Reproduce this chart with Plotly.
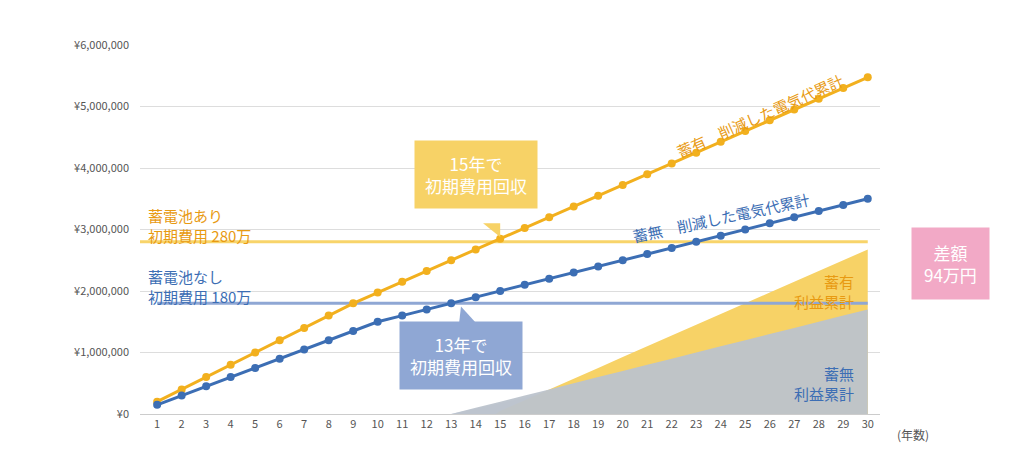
import plotly.graph_objects as go

years = list(range(1, 31))
with_batt = [200,400,600,800,1000,1200,1400,1600,1800,1975,2150,2325,2500,2675,2850,3025,3200,3375,3550,3725,3900,4075,4250,4425,4600,4775,4950,5125,5300,5475]
without_batt = [150,300,450,600,750,900,1050,1200,1350,1500,1600,1700,1800,1900,2000,2100,2200,2300,2400,2500,2600,2700,2800,2900,3000,3100,3200,3300,3400,3500]
with_batt = [v*1000 for v in with_batt]
without_batt = [v*1000 for v in without_batt]
cost_with = 2800000
cost_without = 1800000
yticks = [0,1000000,2000000,3000000,4000000,5000000,6000000]
ytext = ["¥0","¥1,000,000","¥2,000,000","¥3,000,000","¥4,000,000","¥5,000,000","¥6,000,000"]

F = "Noto Sans CJK JP"
YEL, BLU = "#F2B01E", "#3C6EB4"
fig = go.Figure()

px_y = [14.81] + [y for y in years if y >= 15]
py_y = [0] + [max(v - cost_with, 0) for y, v in zip(years, with_batt) if y >= 15]
px_b = [13] + [y for y in years if y > 13]
py_b = [0] + [v - cost_without for y, v in zip(years, without_batt) if y > 13]
fig.add_trace(go.Scatter(x=px_b, y=[0.9*v for v in py_b], fill="tozeroy", mode="none",
                         fillcolor="rgba(180,195,225,0.6)", showlegend=False))
fig.add_trace(go.Scatter(x=px_y, y=py_y, fill="tozeroy", mode="none", fillcolor="#F7D266", showlegend=False))
fig.add_trace(go.Scatter(x=px_b, y=py_b, fill="tozeroy", mode="none", fillcolor="rgba(188,195,204,0.95)", showlegend=False))

fig.add_trace(go.Scatter(x=[0.3, 30], y=[cost_with]*2, mode="lines", line=dict(color="#F8D46A", width=3), showlegend=False))
fig.add_trace(go.Scatter(x=[1, 30], y=[cost_without]*2, mode="lines", line=dict(color="#8FA7D4", width=3), showlegend=False))

fig.add_trace(go.Scatter(x=years, y=with_batt, mode="lines+markers", line=dict(color=YEL, width=3),
                         marker=dict(size=8, color=YEL), showlegend=False))
fig.add_trace(go.Scatter(x=years, y=without_batt, mode="lines+markers", line=dict(color=BLU, width=3),
                         marker=dict(size=8, color=BLU), showlegend=False))

def ann(x, y, text, color, size=15, **kw):
    fig.add_annotation(x=x, y=y, text=text, showarrow=False, font=dict(family=F, size=size, color=color), **kw)

ann(0.55, 3.07e6, "蓄電池あり<br>初期費用 280万", "#E89A12", xanchor="left", align="left")
ann(0.55, 2.07e6, "蓄電池なし<br>初期費用 180万", BLU, xanchor="left", align="left")
ann(25.6, 4.85e6, "蓄有　削減した電気代累計", "#E89A12", textangle=-24)
ann(24.0, 3.2e6, "蓄無　削減した電気代累計", BLU, textangle=-12)
ann(29.5, 2.0e6, "蓄有<br>利益累計", "#E89A12", xanchor="right", align="right")
ann(29.5, 0.5e6, "蓄無<br>利益累計", BLU, xanchor="right", align="right")

fig.add_shape(type="path", path="M 14.3 3.1e6 L 15.0 2.88e6 L 15.0 3.1e6 Z", fillcolor="#F7D266", line_width=0)
fig.add_annotation(x=14.0, y=3.9e6, text="15年で<br>初期費用回収", showarrow=False, bgcolor="#F7D266",
                   font=dict(family=F, size=17, color="white"), borderpad=10)
fig.add_shape(type="path", path="M 13.3 1.4e6 L 13.4 1.75e6 L 14.2 1.4e6 Z", fillcolor="#8FA7D4", line_width=0)
fig.add_annotation(x=13.4, y=0.95e6, text="13年で<br>初期費用回収", showarrow=False, bgcolor="#8FA7D4",
                   font=dict(family=F, size=17, color="white"), borderpad=10)
fig.add_annotation(x=1.095, xref="paper", y=2.45e6, text="差額<br>94万円", showarrow=False, bgcolor="#F2A9C6",
                   font=dict(family=F, size=17, color="white"), borderpad=12, xanchor="center")
fig.add_shape(type="path", path="M 30.5 2.0e6 L 31.4 2.25e6 L 31.4 1.95e6 Z", fillcolor="#F2A9C6", line_width=0)
fig.add_annotation(x=1.02, xref="paper", y=0, yshift=-20, text="(年数)", showarrow=False,
                   xanchor="left", font=dict(family=F, size=12, color="#555"))

fig.update_layout(
    width=1024, height=470, margin=dict(l=132, r=152, t=37, b=64),
    paper_bgcolor="white", plot_bgcolor="white", font=dict(family=F, color="#555"),
    xaxis=dict(range=[0.3, 30.5], tickvals=years, ticktext=[str(y) for y in years], showgrid=False,
               showline=True, linecolor="#CCC", tickfont=dict(size=11), ticks=""),
    yaxis=dict(range=[0, 6e6], tickvals=yticks, ticktext=ytext, gridcolor="#DDD", zeroline=False,
               tickfont=dict(size=11), ticklabelstandoff=10),
)
fig.write_html("out.html")
